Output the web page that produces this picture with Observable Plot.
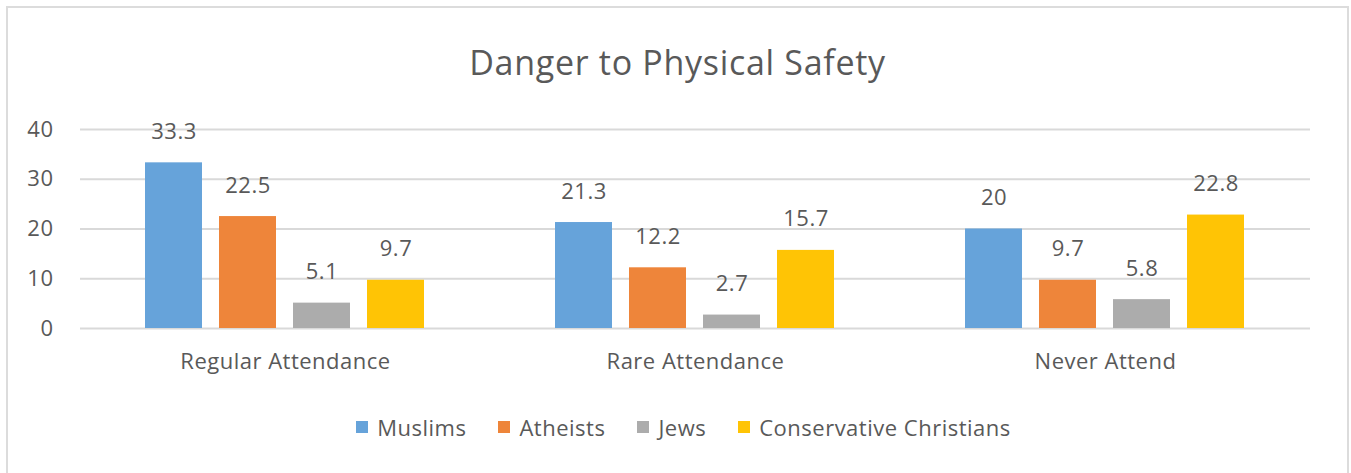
<!DOCTYPE html>
<html>
<head>
<meta charset="utf-8">
<script src="https://cdn.jsdelivr.net/npm/d3@7"></script>
<script src="https://cdn.jsdelivr.net/npm/@observablehq/plot@0.6"></script>
<style>
  html, body { margin: 0; padding: 0; background: #fff; }
  body { width: 1351px; height: 473px; position: relative; overflow: hidden; font-family: "Open Sans", sans-serif; color: #595959; }
  #frame { position: absolute; left: 6px; top: 6px; width: 1343px; height: 500px; border: 2px solid #dcdcdc; box-sizing: border-box; }
  #title { position: absolute; left: 0; width: 1355px; top: 42px; text-align: center; font-size: 34px; letter-spacing: 0.7px; line-height: 40px; color: #595959; }
  #chart { position: absolute; left: 0; top: 100px; }
  #legend { position: absolute; left: 8px; width: 1351px; top: 412px; display: flex; justify-content: center; font-size: 22px; line-height: 30px; letter-spacing: 0.5px; color: #595959; }
  .item { display: flex; align-items: center; margin: 0 16px; }
  .sw { width: 12px; height: 12px; margin-right: 9px; }
</style>
</head>
<body>
<div id="frame"></div>
<div id="title">Danger to Physical Safety</div>
<div id="chart"></div>
<div id="legend"></div>
<script>
const categories = ["Regular Attendance", "Rare Attendance", "Never Attend"];
const series = ["Muslims", "Atheists", "Jews", "Conservative Christians"];
const muslims = [33.3, 21.3, 20];
const atheists = [22.5, 12.2, 9.7];
const jews = [5.1, 2.7, 5.8];
const conservativeChristians = [9.7, 15.7, 22.8];
const yTicks = [0, 10, 20, 30, 40];
const colors = ["#66A3DA", "#EE853A", "#ACACAC", "#FFC405"];

const seriesValues = [muslims, atheists, jews, conservativeChristians];
const data = [];
categories.forEach((c, i) => {
  series.forEach((s, j) => {
    data.push({category: c, series: s, value: seriesValues[j][i]});
  });
});

const plot = Plot.plot({
  width: 1351,
  height: 280,
  marginLeft: 79,
  marginRight: 41,
  marginTop: 29,
  marginBottom: 52,
  style: {fontFamily: "Open Sans", fontSize: "22px", color: "#595959", background: "transparent", letterSpacing: "0.5px"},
  fx: {domain: categories, padding: 0, label: null, axis: "bottom", tickSize: 0, tickPadding: 25},
  x: {domain: series, axis: null, paddingInner: 0.223, paddingOuter: 0.856},
  y: {domain: [0, 40], ticks: yTicks, tickSize: 0, tickPadding: 27, label: null},
  color: {domain: series, range: colors},
  marks: [
    Plot.gridY(yTicks, {stroke: "#d9d9d9", strokeOpacity: 1, strokeWidth: 2}),
    Plot.barY(data, {fx: "category", x: "series", y: "value", fill: "series"}),
    Plot.text(data, {fx: "category", x: "series", y: "value", text: d => String(d.value), dy: -31, fill: "#595959", fontSize: 22})
  ]
});
document.getElementById("chart").appendChild(plot);

const legend = document.getElementById("legend");
series.forEach((s, i) => {
  const item = document.createElement("div");
  item.className = "item";
  const sw = document.createElement("span");
  sw.className = "sw";
  sw.style.background = plot.scale("color").apply(s);
  const label = document.createElement("span");
  label.textContent = s;
  item.appendChild(sw);
  item.appendChild(label);
  legend.appendChild(item);
});
</script>
</body>
</html>
